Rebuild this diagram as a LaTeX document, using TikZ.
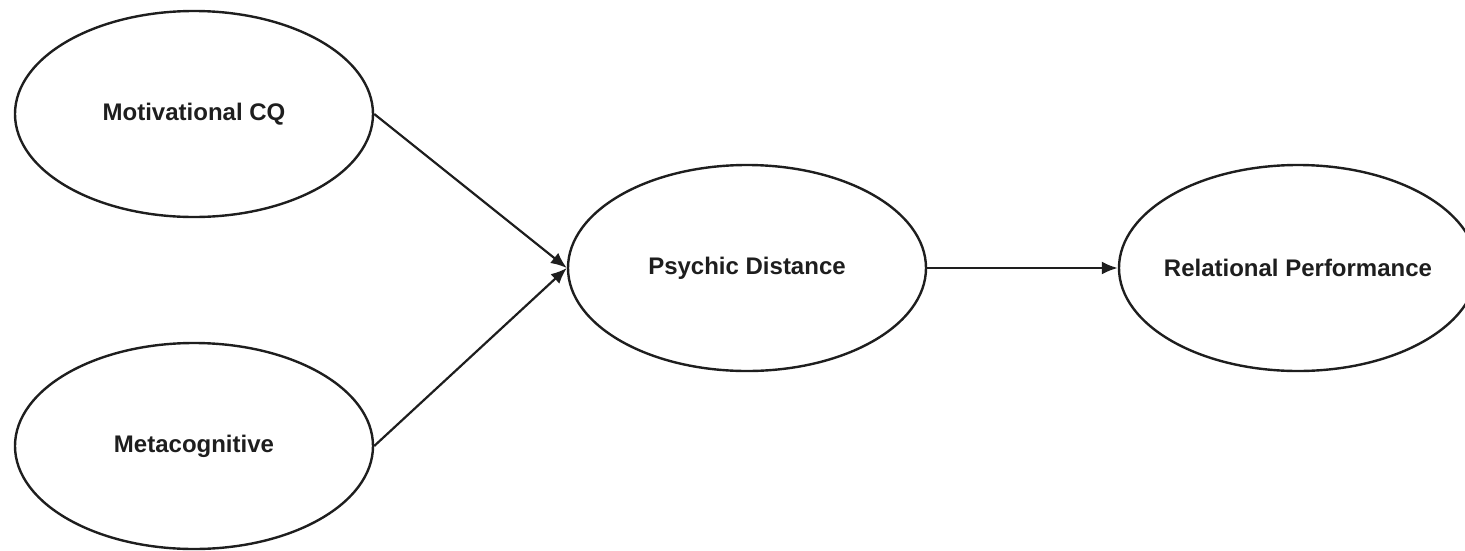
\documentclass[tikz,border=0pt]{standalone}
\usepackage{fontspec}
\setmainfont{Liberation Sans}
\usepackage{xcolor}
\usetikzlibrary{shapes.geometric,arrows.meta}
\definecolor{ink}{HTML}{1E1E1E}
\newcommand{\lbl}[1]{\makebox[0pt]{#1}}
\tikzset{
  construct/.style={draw=ink, ellipse, line width=2.4pt, minimum width=358pt, minimum height=206pt,
    inner sep=0pt, text=ink, font=\fontsize{24}{28}\selectfont\bfseries},
  path/.style={draw=ink, line width=2.2pt, -{Latex[length=16pt,width=13pt]}},
}
\begin{document}
\begin{tikzpicture}[x=1pt,y=-1pt]
  \useasboundingbox (0,0) rectangle (1465,550);
  \node[construct] (mot) at (194,114) {\lbl{Motivational CQ}};
  \node[construct] (meta) at (194,446) {\lbl{Metacognitive}};
  \node[construct] (psy) at (747,268) {\lbl{Psychic Distance}};
  \node[construct] (rel) at (1298,268) {\lbl{Relational Performance}};
  \draw[path] (mot.east) -- (psy.west);
  \draw[path] (meta.east) -- (psy.west);
  \draw[path] (psy.east) -- (rel.west);
\end{tikzpicture}
\end{document}
